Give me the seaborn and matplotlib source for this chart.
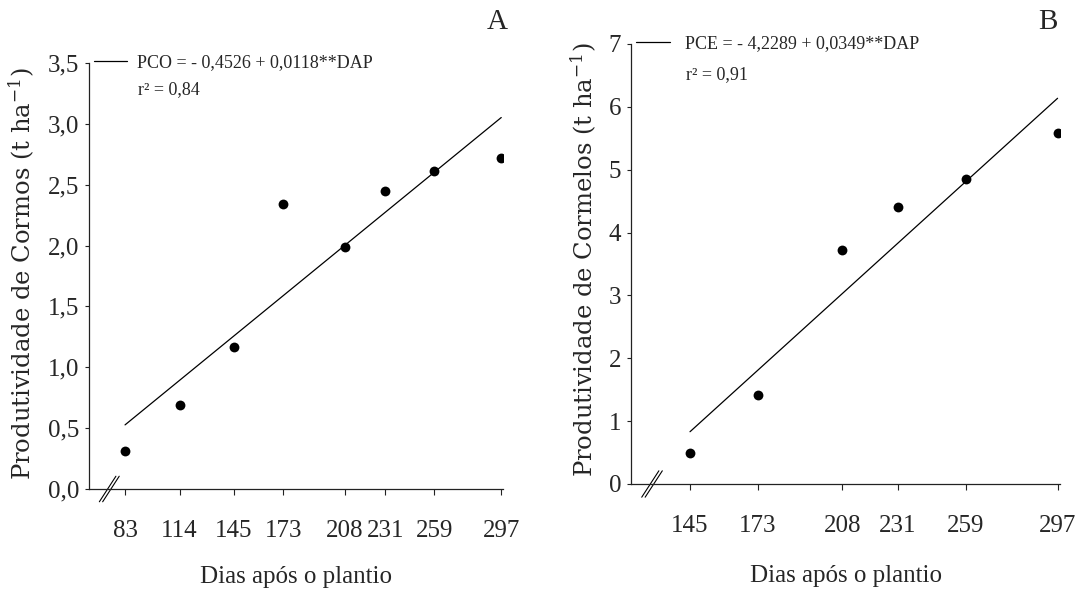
import numpy as np
import pandas as pd
import matplotlib
matplotlib.use("Agg")
import matplotlib.pyplot as plt
import seaborn as sns

# ---- data -------------------------------------------------------------
dap_a = [83, 114, 145, 173, 208, 231, 259, 297]
pco = [0.31, 0.69, 1.17, 2.34, 1.99, 2.45, 2.61, 2.72]
coef_a = (-0.4526, 0.0118)
eq_a = "PCO = - 0,4526 + 0,0118**DAP"
r2_a = "r² = 0,84"
yticks_a = [0.0, 0.5, 1.0, 1.5, 2.0, 2.5, 3.0, 3.5]
yticklabels_a = ["0,0", "0,5", "1,0", "1,5", "2,0", "2,5", "3,0", "3,5"]
ylabel_a = "Produtividade de Cormos (t ha$^{-1}$)"

dap_b = [145, 173, 208, 231, 259, 297]
pce = [0.49, 1.42, 3.73, 4.41, 4.86, 5.58]
coef_b = (-4.2289, 0.0349)
eq_b = "PCE = - 4,2289 + 0,0349**DAP"
r2_b = "r² = 0,91"
yticks_b = [0, 1, 2, 3, 4, 5, 6, 7]
yticklabels_b = ["0", "1", "2", "3", "4", "5", "6", "7"]
ylabel_b = "Produtividade de Cormelos (t ha$^{-1}$)"

xlabel = "Dias após o plantio"
panel_labels = ["A", "B"]

# ---- style ------------------------------------------------------------
sns.set_style("ticks")
plt.rcParams["font.family"] = ["Liberation Serif", "DejaVu Serif"]
plt.rcParams["mathtext.fontset"] = "custom"
plt.rcParams["mathtext.rm"] = "DejaVu Serif"
plt.rcParams["mathtext.it"] = "DejaVu Serif:italic"

fig = plt.figure(figsize=(10.87, 5.99), dpi=100)
W, H = 1087, 599

def axes_px(l, r, t, b):
    return fig.add_axes([l / W, 1 - b / H, (r - l) / W, (b - t) / H])

axA = axes_px(89, 503, 63, 489)
axB = axes_px(631, 1060, 44, 484)

def draw(ax, dap, vals, coef, eq, r2, yt, ytl, ylab, xlim, ylim, leg_gap, r2_pos,
         letter, letter_pos, xlab_pad):
    df = pd.DataFrame({"DAP": dap, "val": vals})
    xfit = [dap[0], dap[-1]]
    fit = pd.DataFrame({"DAP": xfit, "fit": [coef[0] + coef[1] * x for x in xfit]})
    sns.lineplot(data=fit, x="DAP", y="fit", ax=ax, color="black", lw=0.9, label=eq)
    sns.scatterplot(data=df, x="DAP", y="val", ax=ax, color="black", s=50,
                    edgecolor="black", linewidth=0, zorder=3, legend=False)
    ax.set_xlim(*xlim)
    ax.set_ylim(*ylim)
    ax.set_xticks(dap)
    ax.set_xticklabels([str(d) for d in dap])
    ax.set_yticks(yt)
    ax.set_yticklabels(ytl)
    for s in ["top", "right"]:
        ax.spines[s].set_visible(False)
    for s in ["left", "bottom"]:
        ax.spines[s].set_linewidth(0.9)
        ax.spines[s].set_color("#222222")
    ax.tick_params(axis="x", direction="out", length=4.5, width=0.8, pad=18, labelsize=18, color="#222222")
    ax.tick_params(axis="y", direction="out", length=3, width=0.8, pad=4, labelsize=18, color="#222222")
    ax.set_xlabel(xlabel, fontsize=18, labelpad=xlab_pad)
    ax.set_ylabel(ylab, fontsize=17.5, family=["DejaVu Serif"])
    ax.legend(loc="center left", bbox_to_anchor=(0.012, 1.0), frameon=False,
              fontsize=13, handlelength=1.85, handletextpad=leg_gap, borderpad=0,
              borderaxespad=0)
    ax.text(r2_pos[0], r2_pos[1], r2, transform=ax.transAxes, fontsize=13,
            ha="left", va="center")
    # axis break marks
    for dx in (0.0, 0.008):
        ax.plot([0.025 + dx, 0.065 + dx], [-0.03, 0.03], transform=ax.transAxes,
                color="black", lw=0.8, clip_on=False)
    fig.text(letter_pos[0] / W, 1 - letter_pos[1] / H, letter, fontsize=21,
             ha="center", va="center")

draw(axA, dap_a, pco, coef_a, eq_a, r2_a, yticks_a, yticklabels_a, ylabel_a,
     (62.5, 298), (0, 3.5), 0.55, (0.118, 0.937), panel_labels[0], (497, 22), 17)
draw(axB, dap_b, pce, coef_b, eq_b, r2_b, yticks_b, yticklabels_b, ylabel_b,
     (120.6, 298), (0, 7), 0.85, (0.128, 0.93), panel_labels[1], (1048, 22), 20)

# y labels: right (descender) edge of the rotated text at measured pixel columns
axA.yaxis.set_label_coords((37 - 89) / (503 - 89), 0.505)
axB.yaxis.set_label_coords((599 - 631) / (1060 - 631), 0.51)

fig.savefig("out.png", dpi=100, facecolor="white")
